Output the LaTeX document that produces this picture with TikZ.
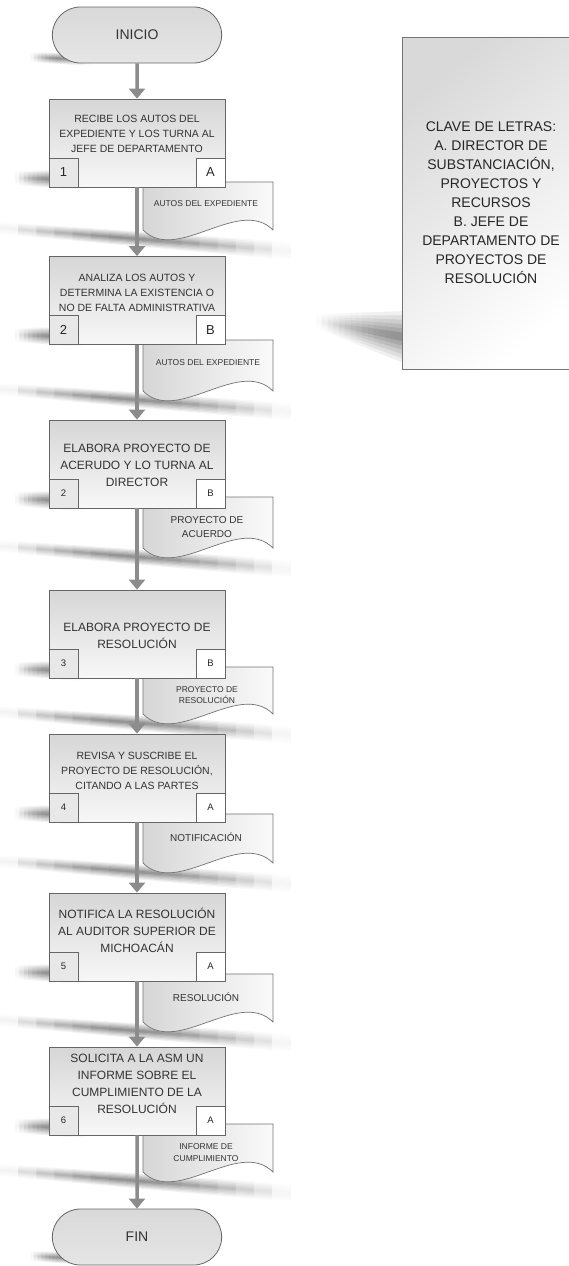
\documentclass[tikz,border=0pt]{standalone}
\usepackage{fontspec}
\setmainfont{Liberation Sans}
\usetikzlibrary{arrows.meta,shapes.misc,positioning}

% soft shadow strip: x1, x2, y left, y right, half left, half right, peak (0..1)
\newcommand{\sombra}[7]{%
  \foreach \k/\c in {6/6,5/13,4/20,3/27,2/34,1/42}{
    \foreach \i in {0,...,15}{
      \pgfmathsetmacro{\sxa}{#1+(#2-#1)*\i/16}
      \pgfmathsetmacro{\sxb}{#1+(#2-#1)*(\i+1)/16+0.6}
      \pgfmathsetmacro{\sya}{#3+(#4-#3)*\i/16}
      \pgfmathsetmacro{\syb}{#3+(#4-#3)*(\i+1)/16}
      \pgfmathsetmacro{\sha}{(#5+(#6-#5)*\i/16)*\k/6}
      \pgfmathsetmacro{\shb}{(#5+(#6-#5)*(\i+1)/16)*\k/6}
      \pgfmathsetmacro{\st}{(\i+0.5)/16}
      \pgfmathsetmacro{\scol}{\c*(\st<#7 ? sin(90*\st/#7) : cos(90*(\st-#7)/(1-#7)))}
      \fill[black!\scol] (\sxa,\sya-\sha) -- (\sxb,\syb-\shb) -- (\sxb,\syb+\shb) -- (\sxa,\sya+\sha) -- cycle;
    }}}

\begin{document}
\begin{tikzpicture}[x=1pt, y=-1pt,
    terminal/.style={rounded rectangle, draw=black!60, line width=0.8pt, top color=black!15, bottom color=black!10,
      minimum width=176pt, minimum height=56pt, text=black!80, font=\fontsize{14}{16}\selectfont},
    proceso/.style={rectangle, draw=black!60, line width=0.8pt, top color=black!16, bottom color=black!3,
      minimum width=176pt, minimum height=88pt},
    txtchico/.style={align=center, text=black!80, font=\fontsize{10.5}{15}\selectfont},
    txtgrande/.style={align=center, text=black!80, font=\fontsize{12}{17}\selectfont},
    numero/.style={rectangle, draw=black!60, line width=0.8pt, fill=black!9, minimum width=29pt, minimum height=29pt,
      inner sep=0pt, text=black!85, font=\fontsize{9.5}{11}\selectfont},
    letra/.style={numero, fill=white},
    doc/.style={draw=black!55, line width=0.7pt, left color=black!16, right color=black!2},
    doctxt/.style={align=center, text=black!80, font=\fontsize{8.5}{12}\selectfont},
    leyenda/.style={rectangle, draw=black!55, line width=0.8pt, top color=black!15, bottom color=white, shading angle=40,
      minimum width=178pt, minimum height=332pt, align=center, text=black!85, font=\fontsize{14}{19}\selectfont},
    flecha/.style={draw=black!45, line width=3.5pt, -{Triangle[width=16pt,length=10pt]}}
  ]
  \useasboundingbox (0,0) rectangle (569,1266);

  % shadows
  \sombra{30}{90}{57}{60}{5}{6}{0.5}
  \sombra{15}{85}{178}{180}{7}{10}{0.5}
  \sombra{15}{85}{335}{337}{7}{10}{0.5}
  \sombra{15}{85}{499}{501}{7}{10}{0.5}
  \sombra{15}{85}{669}{671}{7}{10}{0.5}
  \sombra{15}{85}{813}{815}{7}{10}{0.5}
  \sombra{15}{85}{972}{974}{7}{10}{0.5}
  \sombra{15}{85}{1126}{1128}{7}{10}{0.5}
  \sombra{30}{90}{1256}{1259}{5}{6}{0.5}
  \sombra{0}{290}{228}{251}{6}{9}{0.45}
  \sombra{0}{290}{389}{412}{6}{9}{0.45}
  \sombra{0}{290}{546}{569}{6}{9}{0.45}
  \sombra{0}{290}{712}{735}{6}{9}{0.45}
  \sombra{0}{290}{861}{884}{6}{9}{0.45}
  \sombra{0}{290}{1020}{1043}{6}{9}{0.45}
  \sombra{0}{290}{1170}{1193}{6}{9}{0.45}
  \sombra{316}{408}{321}{338}{7}{27}{0.93}

  % documents
  \draw[doc] (143,182) -- (273,182) -- (273,230) .. controls (239,196) and (177,264) .. (143,230) -- cycle;
  \node[doctxt] (d1) at (206,204) {AUTOS DEL EXPEDIENTE};
  \draw[doc] (143,340) -- (273,340) -- (273,391) .. controls (239,357) and (177,425) .. (143,391) -- cycle;
  \node[doctxt] (d2) at (208,363) {AUTOS DEL EXPEDIENTE};
  \draw[doc] (143,497) -- (273,497) -- (273,548) .. controls (239,514) and (177,582) .. (143,548) -- cycle;
  \node[doctxt, font=\fontsize{10}{14}\selectfont] (d3) at (207,527) {PROYECTO DE\\ACUERDO};
  \draw[doc] (143,667) -- (273,667) -- (273,714) .. controls (239,680) and (177,748) .. (143,714) -- cycle;
  \node[doctxt, font=\fontsize{8.5}{11}\selectfont] (d4) at (207,695) {PROYECTO DE\\RESOLUCIÓN};
  \draw[doc] (143,814) -- (273,814) -- (273,863) .. controls (239,829) and (177,897) .. (143,863) -- cycle;
  \node[doctxt, font=\fontsize{10}{12}\selectfont] (d5) at (206,837) {NOTIFICACIÓN};
  \draw[doc] (143,974) -- (273,974) -- (273,1022) .. controls (239,988) and (177,1056) .. (143,1022) -- cycle;
  \node[doctxt, font=\fontsize{10}{12}\selectfont] (d6) at (206,997) {RESOLUCIÓN};
  \draw[doc] (143,1124) -- (273,1124) -- (273,1172) .. controls (239,1138) and (177,1206) .. (143,1172) -- cycle;
  \node[doctxt] (d7) at (206,1153) {INFORME DE\\CUMPLIMIENTO};

  % terminals and steps
  \node[terminal] (ini) at (137,35) {INICIO};

  \node[proceso] (b1) at (137,143) {};
  \node[txtchico] (t1) at (137,134) {RECIBE LOS AUTOS DEL\\EXPEDIENTE Y LOS TURNA AL\\JEFE DE DEPARTAMENTO};
  \node[numero, anchor=south west, font=\fontsize{13}{15}\selectfont] (n1) at (b1.south west) {1};
  \node[letra, anchor=south east, font=\fontsize{13}{15}\selectfont] (l1) at (b1.south east) {A};

  \node[proceso] (b2) at (137,300.5) {};
  \node[txtchico] (t2) at (137,293) {ANALIZA LOS AUTOS Y\\DETERMINA LA EXISTENCIA O\\NO DE FALTA ADMINISTRATIVA};
  \node[numero, anchor=south west, font=\fontsize{13}{15}\selectfont] (n2) at (b2.south west) {2};
  \node[letra, anchor=south east, font=\fontsize{13}{15}\selectfont] (l2) at (b2.south east) {B};

  \node[proceso] (b3) at (137,464) {};
  \node[txtgrande] (t3) at (137,465) {ELABORA PROYECTO DE\\ACERUDO Y LO TURNA AL\\DIRECTOR};
  \node[numero, anchor=south west] (n3) at (b3.south west) {2};
  \node[letra, anchor=south east] (l3) at (b3.south east) {B};

  \node[proceso] (b4) at (137,634) {};
  \node[txtgrande] (t4) at (137,635.5) {ELABORA PROYECTO DE\\RESOLUCIÓN};
  \node[numero, anchor=south west] (n4) at (b4.south west) {3};
  \node[letra, anchor=south east] (l4) at (b4.south east) {B};

  \node[proceso] (b5) at (137,778) {};
  \node[txtchico] (t5) at (137,771) {REVISA Y SUSCRIBE EL\\PROYECTO DE RESOLUCIÓN,\\CITANDO A LAS PARTES};
  \node[numero, anchor=south west] (n5) at (b5.south west) {4};
  \node[letra, anchor=south east] (l5) at (b5.south east) {A};

  \node[proceso] (b6) at (137,937) {};
  \node[txtgrande] (t6) at (137,930) {NOTIFICA LA RESOLUCIÓN\\AL AUDITOR SUPERIOR DE\\MICHOACÁN};
  \node[numero, anchor=south west] (n6) at (b6.south west) {5};
  \node[letra, anchor=south east] (l6) at (b6.south east) {A};

  \node[proceso] (b7) at (137,1091) {};
  \node[txtgrande] (t7) at (137,1084) {SOLICITA A LA ASM UN\\INFORME SOBRE EL\\CUMPLIMIENTO DE LA\\RESOLUCIÓN};
  \node[numero, anchor=south west] (n7) at (b7.south west) {6};
  \node[letra, anchor=south east] (l7) at (b7.south east) {A};

  \node[terminal] (fin) at (137,1237) {FIN};

  % legend
  \node[leyenda] (clave) at (491,203) {CLAVE DE LETRAS:\\A. DIRECTOR DE\\SUBSTANCIACIÓN,\\PROYECTOS Y\\RECURSOS\\B. JEFE DE\\DEPARTAMENTO DE\\PROYECTOS DE\\RESOLUCIÓN};

  % connectors
  \draw[flecha] (ini) -- (b1);
  \draw[flecha] (b1) -- (b2);
  \draw[flecha] (b2) -- (b3);
  \draw[flecha] (b3) -- (b4);
  \draw[flecha] (b4) -- (b5);
  \draw[flecha] (b5) -- (b6);
  \draw[flecha] (b6) -- (b7);
  \draw[flecha] (b7) -- (fin);
\end{tikzpicture}
\end{document}
